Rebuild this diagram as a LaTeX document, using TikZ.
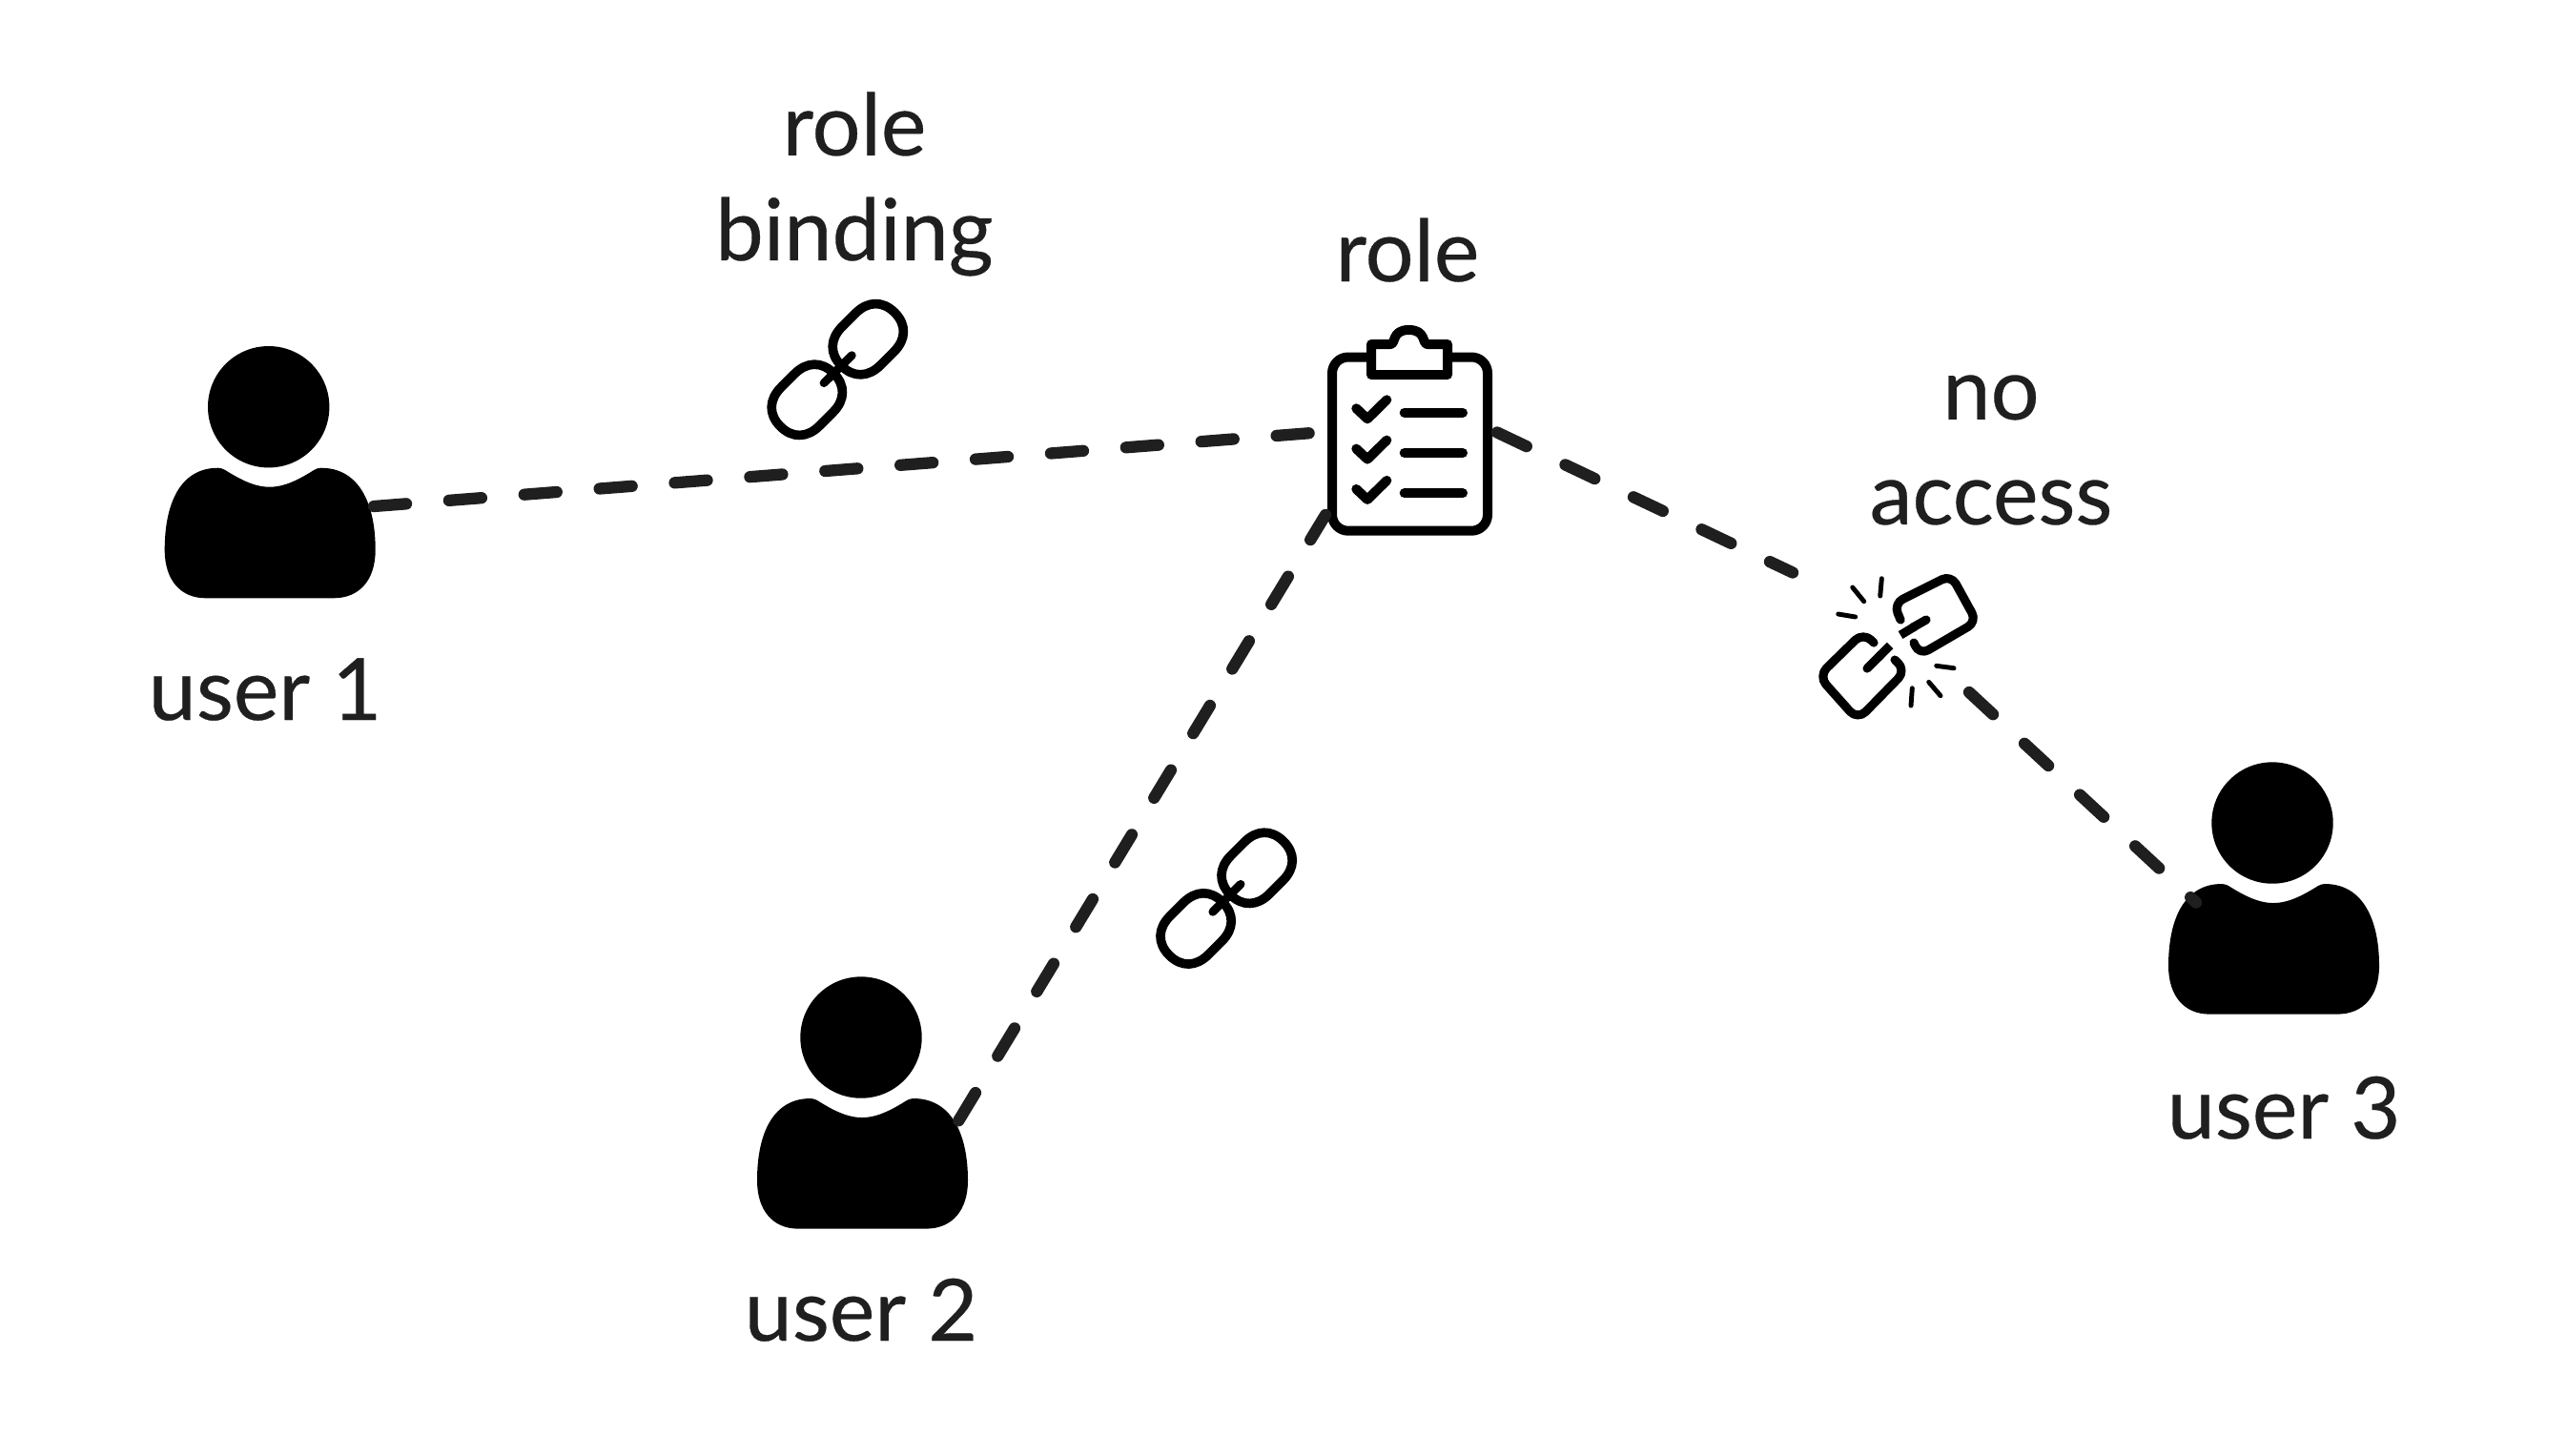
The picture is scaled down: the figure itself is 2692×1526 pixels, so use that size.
\documentclass[tikz,border=0pt]{standalone}
\usepackage{fontspec}
\setmainfont{Lato}
\newfontfamily\labelfont{Lato}[FakeBold=0.35]
\definecolor{ink}{HTML}{1F1F1F}
\tikzset{
  px/.style={x=0.01cm,y=-0.01cm},
  connector/.style={draw=ink,line width=3.5pt,line cap=round,dash pattern=on 9.7pt off 12.8pt},
  label/.style={text=ink,inner sep=0pt,align=center,font=\labelfont\fontsize{25.6}{31.3}\selectfont},
  icon/.style={draw=black,line cap=round,line join=round},
  person/.pic={
    \fill[black] (0,0) circle[radius=63.7];
    \fill[black] (-109,150) .. controls (-109,100) and (-92,64) .. (-53,64)
      .. controls (-50,64) and (-48,65) .. (-46,66)
      .. controls (-30,76) and (-15,84) .. (1,84)
      .. controls (17,84) and (32,76) .. (48,66)
      .. controls (50,65) and (52,64) .. (55,64)
      .. controls (94,64) and (112,100) .. (112,150)
      .. controls (112,182) and (95,200.6) .. (68,200.6)
      -- (-66,200.6) .. controls (-92,200.6) and (-109,182) .. (-109,150) -- cycle;
  },
  chainlink/.pic={
    \draw[icon,line width=2.75pt,rotate=45] (-10,-28.5) -- (10,-28.5)
      .. controls (28,-28.5) and (39.5,-18) .. (39.5,0)
      .. controls (39.5,18) and (28,28.5) .. (10,28.5)
      -- (-10,28.5)
      .. controls (-28,28.5) and (-39.5,18) .. (-39.5,0)
      .. controls (-39.5,-18) and (-28,-28.5) .. (-10,-28.5) -- cycle;
  },
}
\begin{document}
\begin{tikzpicture}[px]
\useasboundingbox[fill=white] (0,0) rectangle (2692,1526);

% users
\pic (user1) at (281.7,426.7) {person};
\pic (user2) at (903,1088) {person};
\pic (user3) at (2383,863) {person};
\node[label,anchor=base] (user1label) at (278,755) {user 1};
\node[label,anchor=base] (user2label) at (903,1406) {user 2};
\node[label,anchor=base] (user3label) at (2395,1194) {user 3};

% clipboard (role)
\draw[icon,line width=2.85pt,rounded corners=4.8pt] (1438,374.5) -- (1397,374.5) -- (1397,556.7) -- (1560,556.7) -- (1560,374.5) -- (1518,374.5);
\draw[icon,line width=2.85pt] (1438,393) -- (1438,361) -- (1458,361)
   .. controls (1464,361) and (1459,346) .. (1477.5,346)
   .. controls (1496,346) and (1491,361) .. (1497,361)
   -- (1518,361) -- (1518,393) -- cycle;
\foreach \dy in {0,42.3,84.6}{
  \draw[icon,line width=2.85pt] (1422.3,428.3+\dy) -- (1434,439.3+\dy) -- (1454.3,419.3+\dy);
  \draw[icon,line width=2.85pt] (1472.7,432.7+\dy) -- (1534,432.7+\dy);
}
\node[label,anchor=base] (rolelabel) at (1476,295) {role};

% intact links
\pic (linkAa) at (910.3,355.7) {chainlink};
\pic (linkAb) at (846.3,419.3) {chainlink};
\draw[icon,line width=2.5pt] (893.3,372.7) -- (864,401.7);
\pic (linkBa) at (1318.1,910.3) {chainlink};
\pic (linkBb) at (1254.1,973.9) {chainlink};
\draw[icon,line width=2.5pt] (1301.1,927.3) -- (1271.8,956.3);
\node[label] (bindinglabel) at (896,193) {role\\binding};

% broken link
\draw[icon,line width=2.6pt,rounded corners=3pt] (1993,650) -- (1986,633) -- (2046,603) -- (2073,652) -- (2013,687) -- (2007,674);
\draw[icon,line width=2.6pt,rounded corners=3.4pt] (1965,674) -- (1954,663) -- (1907,709) -- (1948,755) -- (1999,703) -- (1987,692);
\draw[draw=black,line width=2.6pt,line cap=butt] (1993,666) -- (2008,657);
\draw[icon,line width=2.6pt] (2006,658) -- (2020,650);
\draw[draw=black,line width=2.6pt,line cap=butt] (1982,677) -- (1970,689);
\draw[icon,line width=2.6pt] (1972,687) -- (1958,701);
\foreach \ax/\ay/\bx/\by in {1942.7/616/1954.7/630.7, 1973.3/606.7/1971.7/625, 1927.7/644/1945.7/647,
  2030.7/698.3/2049/700.7, 2022.7/715.3/2035/729.7, 2005.3/721.7/2004/740}{
  \draw[icon,line width=1.4pt] (\ax,\ay) -- (\bx,\by);
}
\node[label] (noaccesslabel) at (2088,472) {no\\access};

% connector ends
\coordinate (u1port) at (392,531);
\coordinate (u2port) at (1005.3,1175.2);
\coordinate (u3port) at (2303,946.5);
\coordinate (roleW) at (1376,454);
\coordinate (roleSW) at (1390,540);
\coordinate (roleE) at (1570,453.5);
\coordinate (breakNW) at (1880,600.5);
\coordinate (breakSE) at (2065,726);

\draw[connector] (u1port) -- (roleW);
\draw[connector] (u2port) -- (roleSW);
\draw[connector] (roleE) -- (breakNW);
\draw[connector] (breakSE) -- (u3port);
\end{tikzpicture}
\end{document}
